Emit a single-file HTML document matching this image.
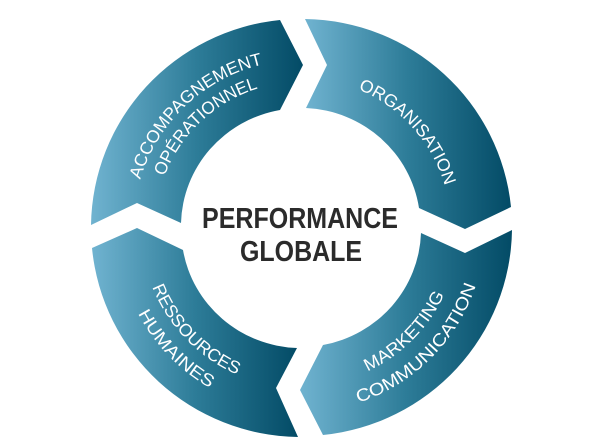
<!DOCTYPE html>
<html><head><meta charset="utf-8"><style>
html,body{margin:0;padding:0;background:#fff;}
svg{display:block;}
text{font-family:"Liberation Sans",sans-serif;}
</style></head><body>
<svg width="600" height="441" viewBox="0 0 600 441" xmlns="http://www.w3.org/2000/svg">
<defs>
<linearGradient id="g" x1="0" y1="0" x2="1" y2="0">
<stop offset="0" stop-color="#70b3d0"/>
<stop offset="0.5" stop-color="#2d7c98"/>
<stop offset="1" stop-color="#034b66"/>
</linearGradient>
<path id="p1" d="M133.3,237.4 A168,168 0 0 1 320.9,61.2"/>
<path id="p2" d="M155.2,236.2 A146,146 0 0 1 318.3,83.0"/>
<path id="p3" d="M295.8,78.1 A150,150 0 0 1 449.5,248.9"/>
<path id="p4" d="M287.2,385.4 A158,158 0 0 0 458.4,214.2"/>
<path id="p5" d="M285.0,411.3 A184,184 0 0 0 484.3,212.0"/>
<path id="p6" d="M141.9,211.3 A160,160 0 0 0 312.2,387.6"/>
<path id="p7" d="M118.0,208.8 A184,184 0 0 0 313.8,411.6"/>
</defs>
<path fill="url(#g)" d="M91,225 A210,209 0 0 1 280,20 L303,65 L280,110 A120,118 0 0 0 181,223 L137,203 Z"/>
<path fill="url(#g)" d="M305,19 A210,209 0 0 1 511,207 L465,229 L419,208 A120,118 0 0 0 306,108 L327,65 Z"/>
<path fill="url(#g)" d="M512,230 A210,209 0 0 1 323,435 L300,390 L323,345 A120,118 0 0 0 421,233 L465,253 Z"/>
<path fill="url(#g)" d="M298,437 A210,209 0 0 1 92,248 L137,228 L183,250 A120,118 0 0 0 297,348 L276,388 Z"/>
<g fill="#fff" font-size="17.5" text-anchor="middle">
<text><textPath href="#p1" startOffset="50%" textLength="176" lengthAdjust="spacingAndGlyphs">ACCOMPAGNEMENT</textPath></text>
<text><textPath href="#p2" startOffset="50%" textLength="133" lengthAdjust="spacingAndGlyphs">OPÉRATIONNEL</textPath></text>
<text><textPath href="#p3" startOffset="50%" textLength="134" lengthAdjust="spacingAndGlyphs">ORGANISATION</textPath></text>
<text><textPath href="#p4" startOffset="50%" textLength="111" lengthAdjust="spacingAndGlyphs">MARKETING</textPath></text>
<text><textPath href="#p5" startOffset="50%" textLength="172" lengthAdjust="spacingAndGlyphs">COMMUNICATION</textPath></text>
<text><textPath href="#p6" startOffset="50%" textLength="125" lengthAdjust="spacingAndGlyphs">RESSOURCES</textPath></text>
<text><textPath href="#p7" startOffset="50%" textLength="105" lengthAdjust="spacingAndGlyphs">HUMAINES</textPath></text>
</g>
<g fill="#2b2b2b" font-weight="bold" font-size="29" text-anchor="middle">
<text x="300" y="228" textLength="196" lengthAdjust="spacingAndGlyphs">PERFORMANCE</text>
<text x="301" y="261" textLength="122" lengthAdjust="spacingAndGlyphs">GLOBALE</text>
</g>
</svg>
</body></html>
